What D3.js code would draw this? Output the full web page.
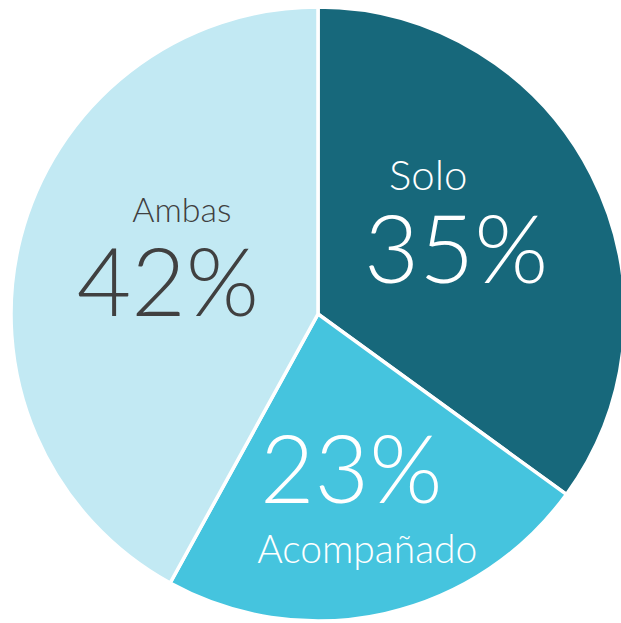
<!DOCTYPE html>
<html>
<head>
<meta charset="utf-8">
<script src="https://cdn.jsdelivr.net/npm/d3@7"></script>
<style>
  html, body { margin: 0; padding: 0; background: #fff; }
  svg { display: block; }
  text { font-family: "Century Gothic", "Lato", "Open Sans", sans-serif; font-weight: 300; }
</style>
</head>
<body>
<div id="chart"></div>
<script>
// data
var categories = ["Solo", "Acompañado", "Ambas"];
var values = [35, 23, 42];
var colors = ["#17687b", "#45c4de", "#c2e9f3"];
var textColors = ["#ffffff", "#ffffff", "#404040"];

var width = 621, height = 623;
var cx = 318, cy = 314, radius = 307;

var svg = d3.select("#chart")
  .append("svg")
    .attr("width", width)
    .attr("height", height)
  .append("g")
    .attr("transform", "translate(" + cx + "," + cy + ")");

var pie = d3.pie().sort(null).value(function(d) { return d; });
var arc = d3.arc().innerRadius(0).outerRadius(radius);

var arcs = pie(values);

svg.selectAll("path")
  .data(arcs)
  .enter().append("path")
    .attr("d", arc)
    .attr("fill", function(d, i) { return colors[i]; })
    .attr("stroke", "#fff")
    .attr("stroke-width", 3.5);

// label placement around each slice's mid angle
var labelRadius = [145, 212, 155];
var pctOffset = [[9, 35], [-13, -18], [0, 41]];
var nameOffset = [[-19, -58], [3, 42], [14, -53]];
var nameSize = [42, 39, 34];
var pctSize = [95, 94, 94];

arcs.forEach(function(d, i) {
  var a = (d.startAngle + d.endAngle) / 2;
  var x = Math.sin(a) * labelRadius[i];
  var y = -Math.cos(a) * labelRadius[i];
  var g = svg.append("g").attr("transform", "translate(" + x + "," + y + ")");
  g.append("text")
    .attr("x", pctOffset[i][0])
    .attr("y", pctOffset[i][1])
    .attr("text-anchor", "middle")
    .attr("fill", textColors[i])
    .style("font-size", pctSize[i] + "px")
    .text(values[i] + "%");
  g.append("text")
    .attr("x", nameOffset[i][0])
    .attr("y", nameOffset[i][1])
    .attr("text-anchor", "middle")
    .attr("fill", textColors[i])
    .style("font-size", nameSize[i] + "px")
    .text(categories[i]);
});
</script>
</body>
</html>
